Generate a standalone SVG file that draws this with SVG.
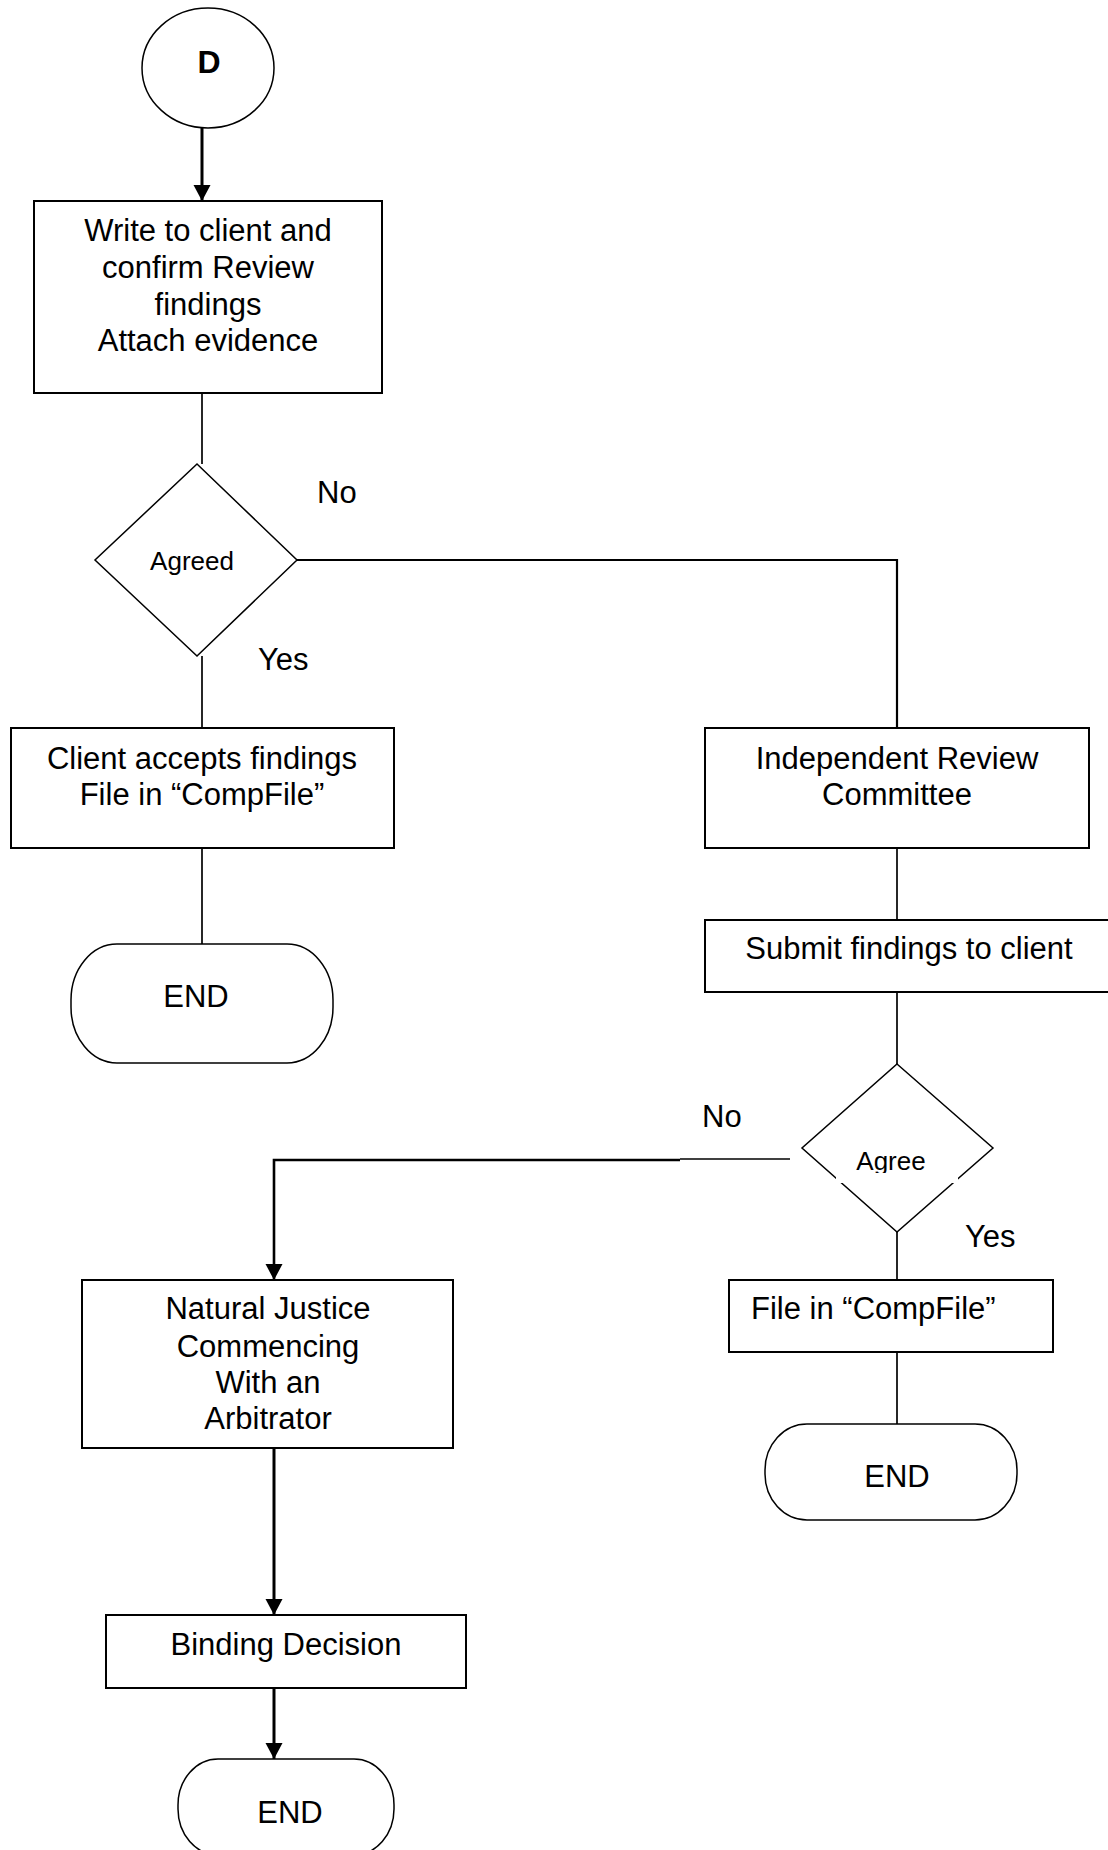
<svg xmlns="http://www.w3.org/2000/svg" width="1108" height="1850" viewBox="0 0 1108 1850">
<style>
.box{fill:#fff;stroke:#000;stroke-width:2}
.thin{fill:#fff;stroke:#000;stroke-width:1.5}
.t{font-family:"Liberation Sans",Arial,sans-serif;font-size:31px;fill:#000}
.c{text-anchor:middle}
.s{font-size:26px}
.ln{fill:none;stroke:#000;stroke-width:1.7}
.th{fill:none;stroke:#000;stroke-width:3}
</style>
<defs>
<marker id="ah" markerUnits="userSpaceOnUse" markerWidth="18" markerHeight="18" refX="16" refY="8.5" orient="auto">
<path d="M0,0 L16,8.5 L0,17 Z" fill="#000"/>
</marker>
</defs>
<rect width="1108" height="1850" fill="#fff"/>
<g id="connectors">
<line class="th" x1="202" y1="128" x2="202" y2="201" marker-end="url(#ah)"/>
<line class="ln" x1="202" y1="393" x2="202" y2="464"/>
<line class="ln" x1="202" y1="656" x2="202" y2="728"/>
<polyline class="ln" points="297,560 897,560 897,728" style="stroke-width:2.2"/>
<line class="ln" x1="202" y1="848" x2="202" y2="944"/>
<line class="ln" x1="897" y1="848" x2="897" y2="920"/>
<line class="ln" x1="897" y1="992" x2="897" y2="1064"/>
<line class="ln" x1="897" y1="1232" x2="897" y2="1280"/>
<line class="ln" x1="897" y1="1352" x2="897" y2="1424"/>
<line class="ln" x1="790" y1="1159" x2="680" y2="1159" style="stroke-width:1.4"/>
<polyline class="th" points="680,1160 274,1160 274,1280" style="stroke-width:2.6" marker-end="url(#ah)"/>
<line class="th" x1="274" y1="1448" x2="274" y2="1615" marker-end="url(#ah)"/>
<line class="th" x1="274" y1="1688" x2="274" y2="1759" marker-end="url(#ah)"/>
</g>
<g id="start-d">
<ellipse class="thin" cx="208" cy="68" rx="66" ry="60"/>
<text class="t c" x="209" y="73" style="font-weight:bold;font-size:32px">D</text>
</g>
<g id="write-client">
<rect class="box" x="34" y="201" width="348" height="192"/>
<text class="t c" x="208" y="241">Write to client and</text>
<text class="t c" x="208" y="278">confirm Review</text>
<text class="t c" x="208" y="315">findings</text>
<text class="t c" x="208" y="351">Attach evidence</text>
</g>
<g id="agreed">
<polygon class="thin" points="197,464 297,560 197,656 95,560"/>
<text class="t c s" x="192" y="570">Agreed</text>
</g>
<g id="labels-top">
<text class="t" x="317" y="503">No</text>
<text class="t" x="258" y="670">Yes</text>
</g>
<g id="client-accepts">
<rect class="box" x="11" y="728" width="383" height="120"/>
<text class="t c" x="202" y="769">Client accepts findings</text>
<text class="t c" x="202" y="805">File in “CompFile”</text>
</g>
<g id="end-1">
<rect class="thin" x="71" y="944" width="262" height="119" rx="46" ry="56"/>
<text class="t c" x="196" y="1007">END</text>
</g>
<g id="irc">
<rect class="box" x="705" y="728" width="384" height="120"/>
<text class="t c" x="897" y="769">Independent Review</text>
<text class="t c" x="897" y="805">Committee</text>
</g>
<g id="submit">
<rect class="box" x="705" y="920" width="410" height="72"/>
<text class="t c" x="909" y="959">Submit findings to client</text>
</g>
<g id="agree">
<polygon class="thin" points="897,1064 993,1148 897,1232 802,1148"/>
<text class="t c s" x="891" y="1170">Agree</text>
<rect x="836" y="1173" width="122" height="10" fill="#fff"/>
</g>
<g id="labels-bottom">
<text class="t" x="702" y="1127">No</text>
<text class="t" x="965" y="1247">Yes</text>
</g>
<g id="file-compfile">
<rect class="box" x="729" y="1280" width="324" height="72"/>
<text class="t" x="751" y="1319">File in “CompFile”</text>
</g>
<g id="end-2">
<rect class="thin" x="765" y="1424" width="252" height="96" rx="42" ry="46"/>
<text class="t c" x="897" y="1487">END</text>
</g>
<g id="natural-justice">
<rect class="box" x="82" y="1280" width="371" height="168"/>
<text class="t c" x="268" y="1319">Natural Justice</text>
<text class="t c" x="268" y="1357">Commencing</text>
<text class="t c" x="268" y="1393">With an</text>
<text class="t c" x="268" y="1429">Arbitrator</text>
</g>
<g id="binding">
<rect class="box" x="106" y="1615" width="360" height="73"/>
<text class="t c" x="286" y="1655">Binding Decision</text>
</g>
<g id="end-3">
<rect class="thin" x="178" y="1759" width="216" height="96" rx="40" ry="46"/>
<text class="t c" x="290" y="1823">END</text>
</g>
</svg>
